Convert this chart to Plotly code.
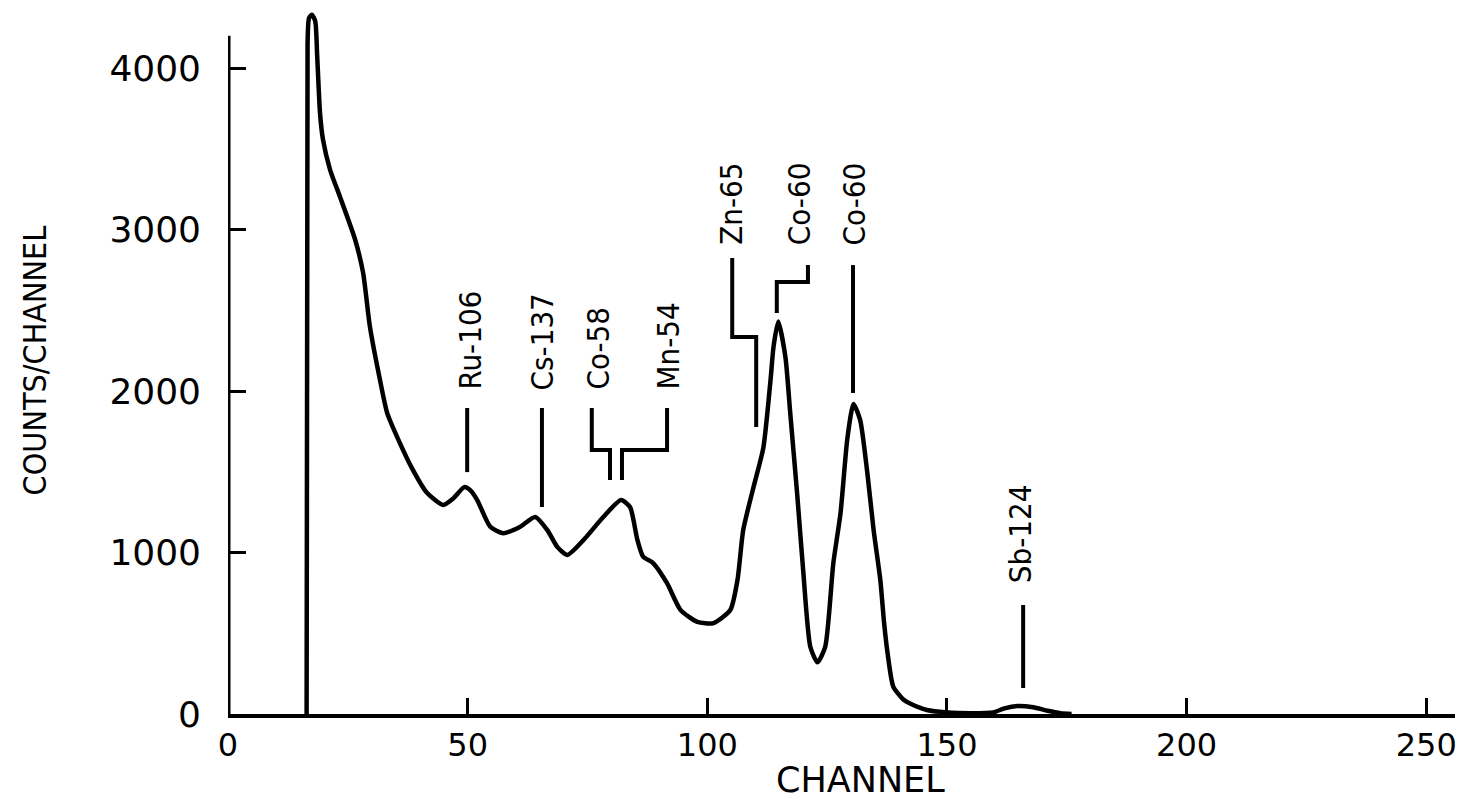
import plotly.graph_objects as go

# ---- spectrum data (channel vs counts/channel) ----
channel = [16.4, 16.6, 16.9, 17.5, 18.2, 18.6, 19.2, 19.8, 21.3, 23.4, 26.5, 28.2,
           29.6, 31.7, 33.2, 35.3, 38.6, 41.5, 44.9, 47.0, 49.3, 50.6, 52.0, 54.7,
           57.4, 61.0, 64.1, 66.6, 68.7, 70.8, 74.1, 78.3, 82.0, 83.9, 85.4, 86.6,
           88.7, 91.6, 94.4, 97.9, 101.3, 104.8, 106.3, 107.5, 109.6, 111.7, 113.2,
           113.8, 114.8, 116.3, 117.3, 118.8, 120.0, 121.5, 123.0, 124.6, 126.3,
           127.8, 129.2, 130.5, 131.9, 133.4, 134.7, 136.1, 136.9, 137.6, 138.8,
           140.9, 142.3, 145.8, 150.0, 155.0, 159.7, 162.0, 164.7, 168.0, 171.0,
           173.7, 176.0]
counts = [0, 4150, 4310, 4330, 4290, 4080, 3720, 3560, 3370, 3200, 2940, 2730,
          2400, 2070, 1865, 1715, 1510, 1370, 1295, 1335, 1405, 1385, 1325, 1160,
          1120, 1160, 1220, 1140, 1035, 985, 1075, 1220, 1325, 1280, 1080, 975,
          935, 810, 645, 570, 563, 644, 830, 1140, 1400, 1650, 2070,
          2270, 2430, 2210, 1865, 1345, 890, 415, 320, 415, 935,
          1245, 1700, 1920, 1820, 1490, 1140, 830, 560, 380, 170,
          90, 65, 25, 10, 5, 10, 35, 50, 42, 20,
          5, 0]
assert len(channel) == len(counts)

# ---- axis ticks ----
x_ticks = [0, 50, 100, 150, 200, 250]
x_tick_labels = ["0", "50", "100", "150", "200", "250"]
y_ticks = [0, 1000, 2000, 3000, 4000]
y_tick_labels = ["0", "1000", "2000", "3000", "4000"]
x_range = [0, 256]
y_range = [0, 4372]
y_axis_top = 4200

# ---- isotope labels (text anchored at its lower end) ----
label_text = ["Ru-106", "Cs-137", "Co-58", "Mn-54", "Zn-65", "Co-60", "Co-60", "Sb-124"]
label_x = [50.3, 65.5, 77.0, 91.6, 104.9, 119.3, 130.8, 165.4]
label_y = [1994, 1994, 1994, 1994, 2892, 2892, 2892, 799]

# ---- leader lines from labels to peaks ----
leader_x = [
    [49.9, 49.9],
    [65.5, 65.5],
    [75.9, 75.9, 79.7, 79.7],
    [91.6, 91.6, 82.2, 82.2],
    [105.2, 105.2, 110.2, 110.2],
    [121.0, 121.0, 114.5, 114.5],
    [130.4, 130.4],
    [165.9, 165.9],
]
leader_y = [
    [1895, 1498],
    [1895, 1282],
    [1895, 1635, 1635, 1449],
    [1895, 1635, 1635, 1449],
    [2824, 2334, 2334, 1777],
    [2780, 2675, 2675, 2483],
    [2780, 1988],
    [675, 161],
]

fig = go.Figure()

fig.add_trace(go.Scatter(
    x=channel, y=counts, mode="lines",
    line=dict(color="black", width=4.5, shape="spline", smoothing=0.6),
    hoverinfo="skip", showlegend=False, cliponaxis=False,
))

for lx, ly in zip(leader_x, leader_y):
    fig.add_trace(go.Scatter(
        x=lx, y=ly, mode="lines",
        line=dict(color="black", width=4),
        hoverinfo="skip", showlegend=False,
    ))

label_font = dict(family="DejaVu Sans Condensed, sans-serif", size=31, color="black")
for t, x, y in zip(label_text, label_x, label_y):
    fig.add_annotation(x=x, y=y, xref="x", yref="y", text=t, textangle=-90,
                       showarrow=False, xanchor="center", yanchor="bottom",
                       font=label_font)

# y axis line (drawn to its own top, below the tall first peak)
fig.add_shape(type="line", xref="x", yref="y", x0=0, x1=0, y0=0, y1=y_axis_top,
              line=dict(color="black", width=5))

# axis titles
fig.add_annotation(x=-0.157, y=2192, xref="paper", yref="y", text="COUNTS/CHANNEL",
                   textangle=-90, showarrow=False, xanchor="center", yanchor="middle",
                   font=dict(family="DejaVu Sans Condensed, sans-serif", size=32, color="black"))
fig.add_annotation(x=131.9, y=-0.093, xref="x", yref="paper", text="CHANNEL",
                   showarrow=False, xanchor="center", yanchor="middle",
                   font=dict(family="DejaVu Sans, sans-serif", size=35, color="black"))

fig.update_xaxes(
    range=x_range, tickvals=x_ticks, ticktext=x_tick_labels,
    ticks="inside", ticklen=16, tickwidth=3, tickcolor="black",
    showline=True, linecolor="black", linewidth=4,
    showgrid=False, zeroline=False, ticklabelstandoff=0,
    tickfont=dict(family="DejaVu Sans, sans-serif", size=32, color="black"),
)
fig.update_yaxes(
    range=y_range, tickvals=y_ticks, ticktext=y_tick_labels,
    ticks="inside", ticklen=18, tickwidth=3, tickcolor="black",
    showline=False, showgrid=False, zeroline=False, ticklabelstandoff=26,
    tickfont=dict(family="DejaVu Sans, sans-serif", size=36, color="black"),
)

# page body has an 8 px margin, so the figure is sized/offset to compensate
fig.update_layout(
    width=1470, height=795,
    margin=dict(l=220, r=23, t=0, b=89),
    paper_bgcolor="white", plot_bgcolor="white",
    showlegend=False,
)

fig.write_html("out.html")
